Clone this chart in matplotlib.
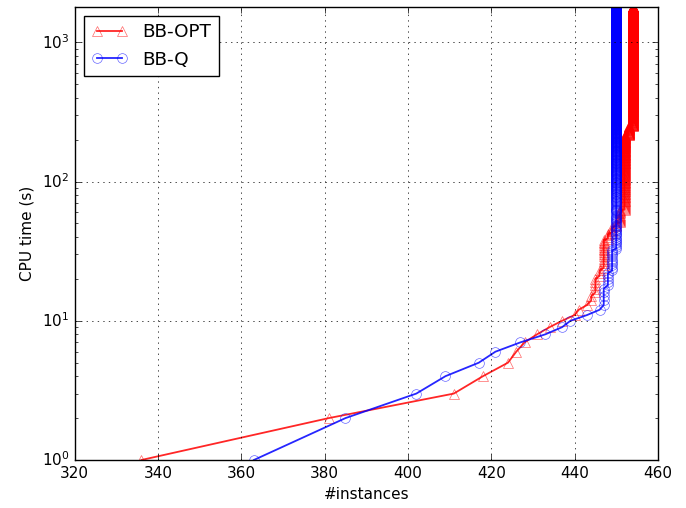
import matplotlib
matplotlib.use('Agg')
import matplotlib.pyplot as plt
import numpy as np

# number of instances solved within a given CPU time (s)
# each pair: from this time on, this many instances are solved
time_limit = 1800

opt_times = [1, 2, 3, 4, 5, 6, 7, 8, 9, 10, 11, 12, 13, 14, 16, 21, 24, 39, 43, 48, 51, 63, 216, 251]
opt_counts = [336, 381, 411, 418, 424, 426, 428, 431, 434, 437, 440, 441, 443, 444, 445, 446, 447, 448, 449, 450, 451, 452, 453, 454]

q_times = [1, 2, 3, 4, 5, 6, 7, 8, 9, 10, 11, 12, 13, 18, 23, 33]
q_counts = [363, 385, 402, 409, 417, 421, 427, 433, 437, 439, 443, 446, 447, 448, 449, 450]


def solved_per_second(times, counts):
    '''
    ARGUMENTS
        times: the CPU times at which the solved count changes
        counts: the solved count from that time on

    RETURNS:
        t: every whole second up to the time limit
        n: the number of instances solved within t seconds
    '''
    t = np.arange(1, time_limit + 1)
    idx = np.searchsorted(times, t, side='right') - 1
    n = np.array(counts)[idx]
    return t, n


plt.style.use('classic')
plt.rcParams['font.size'] = 11
fig = plt.figure(figsize=(6.86, 5.08), facecolor='white')
ax = fig.add_axes([0.109, 0.0945, 0.85, 0.892])

# draw both curves
t, n = solved_per_second(opt_times, opt_counts)
ax.plot(n, t, color=(1, 0, 0, 0.85), lw=1.3, marker='^', markersize=7, mfc='none',
        mec=(1, 0, 0, 0.6), label='BB-OPT')
t, n = solved_per_second(q_times, q_counts)
ax.plot(n, t, color=(0, 0, 1, 0.85), lw=1.3, marker='o', markersize=7, mfc='none',
        mec=(0, 0, 1, 0.6), label='BB-Q')

# format the axes
ax.set_yscale('log')
ax.set_xlim(320, 460)
ax.set_ylim(1, time_limit)
ax.set_xlabel('#instances')
ax.set_ylabel('CPU time (s)')
ax.grid(True)
ax.legend(loc='upper left')

fig.savefig('out.png', dpi=100, facecolor='white')
